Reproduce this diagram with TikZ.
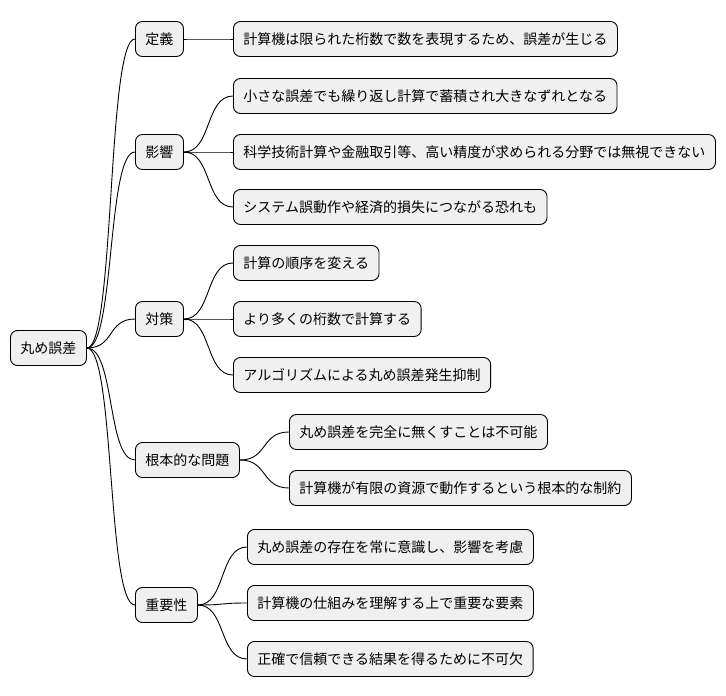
\documentclass[tikz,border=0pt]{standalone}
\usepackage{fontspec}
\setmainfont{Noto Sans CJK JP}
\begin{document}
\begin{tikzpicture}[x=1pt,y=-1pt,
  box/.style={draw=black,line width=0.9pt,fill=black!6,rounded corners=7pt,anchor=west,
    minimum height=35pt,inner xsep=10pt,font=\fontsize{14}{16}\selectfont},
  link/.style={draw=black,line width=0.9pt}]
\useasboundingbox (0,0) rectangle (726,696);
\node[box] (r) at (10,348) {丸め誤差};
\node[box] (a) at (135,39) {定義};
\node[box] (b) at (135,152) {影響};
\node[box] (c) at (135,319) {対策};
\node[box] (d) at (135,460) {根本的な問題};
\node[box] (e) at (135,605) {重要性};
\node[box] (a1) at (233,39) {計算機は限られた桁数で数を表現するため、誤差が生じる};
\node[box] (b1) at (233,96) {小さな誤差でも繰り返し計算で蓄積され大きなずれとなる};
\node[box] (b2) at (233,152) {科学技術計算や金融取引等、高い精度が求められる分野では無視できない};
\node[box] (b3) at (233,207) {システム誤動作や経済的損失につながる恐れも};
\node[box] (c1) at (233,263) {計算の順序を変える};
\node[box] (c2) at (233,319) {より多くの桁数で計算する};
\node[box] (c3) at (233,375) {アルゴリズムによる丸め誤差発生抑制};
\node[box] (d1) at (289,432) {丸め誤差を完全に無くすことは不可能};
\node[box] (d2) at (289,488) {計算機が有限の資源で動作するという根本的な制約};
\node[box] (e1) at (247,547) {丸め誤差の存在を常に意識し、影響を考慮};
\node[box] (e2) at (247,603) {計算機の仕組みを理解する上で重要な要素};
\node[box] (e3) at (247,659) {正確で信頼できる結果を得るために不可欠};
\foreach \p/\c in {r/a,r/b,r/c,r/d,r/e,a/a1,b/b1,b/b2,b/b3,c/c1,c/c2,c/c3,d/d1,d/d2,e/e1,e/e2,e/e3}
  \draw[link] (\p.east) .. controls +(28,0) and +(-28,0) .. (\c.west);
\end{tikzpicture}
\end{document}
